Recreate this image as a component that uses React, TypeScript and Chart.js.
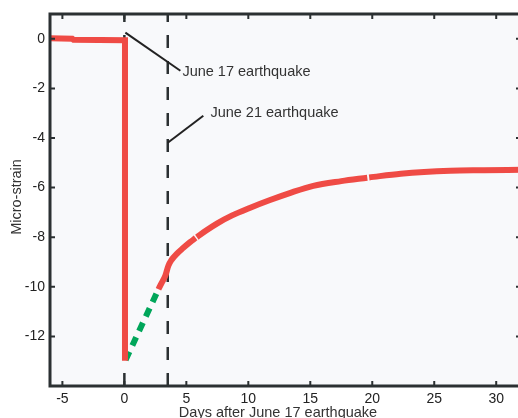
import React, { useEffect, useRef } from "react";
import { Chart, registerables } from "chart.js";

Chart.register(...registerables);

// ---- data ----
const preDays = [-6, -4.2, -4.1, 0.05, 0.05];
const preStrain = [0.02, 0.0, -0.04, -0.06, -12.98];

const recoveryDays = [2.75, 3.0, 3.3, 3.55, 3.8, 4.25, 4.76, 5.3, 5.75, 5.8, 5.85, 6.6, 7.5, 8.7, 10.16, 11.7, 13.4, 15.24, 17.5, 19.6, 19.68, 19.75, 22.3, 26.3, 29, 32];
const recoveryStrain: (number | null)[] = [-10.1, -9.85, -9.56, -9.15, -8.92, -8.66, -8.43, -8.2, -8.03, null, -8.0, -7.73, -7.44, -7.12, -6.81, -6.51, -6.21, -5.93, -5.74, -5.6, null, -5.59, -5.44, -5.32, -5.3, -5.28];

const fitDays = [0.1, 2.75];
const fitStrain = [-12.95, -10.1];

const eventDays = [0, 3.5];
const labelTexts = ["June 17 earthquake", "June 21 earthquake"];
const leaderStart = [[0.08, 0.25], [3.5, -4.19]];
const leaderEnd = [[4.52, -1.29], [6.37, -3.1]];
const labelAnchor = [[4.68, -1.33], [6.94, -3.0]];

const xTicks = [-5, 0, 5, 10, 15, 20, 25, 30];
const yTicks = [0, -2, -4, -6, -8, -10, -12];

const xTitle = "Days after June 17 earthquake";
const yTitle = "Micro-strain";

// ---- styles ----
const RED = "#ef4b45";
const GREEN = "#00a65a";
const DARK = "#2b3032";
const BG = "#f8f9fb";
const FONT = "'Liberation Sans', Arial, Helvetica, sans-serif";

const pts = (xs: number[], ys: (number | null)[]) => xs.map((x, i) => ({ x, y: ys[i] }));

const framePlugin = {
  id: "framePlugin",
  beforeDraw(chart: any) {
    const { ctx, chartArea: a, width, height } = chart;
    ctx.save();
    ctx.fillStyle = "#ffffff";
    ctx.fillRect(0, 0, width, height);
    ctx.fillStyle = BG;
    ctx.fillRect(a.left, a.top, a.right - a.left, a.bottom - a.top);
    ctx.restore();
  },
  beforeDatasetsDraw(chart: any) {
    const { ctx, chartArea: a, scales } = chart;
    const x = scales.x, y = scales.y;
    ctx.save();
    ctx.beginPath();
    ctx.rect(a.left, a.top, a.right - a.left, a.bottom - a.top);
    ctx.clip();
    ctx.strokeStyle = DARK;
    ctx.lineWidth = 2.5;
    ctx.setLineDash([13, 13]);
    eventDays.forEach((d) => {
      const px = x.getPixelForValue(d);
      ctx.beginPath();
      ctx.moveTo(px, a.bottom);
      ctx.lineTo(px, a.top);
      ctx.stroke();
    });
    ctx.setLineDash([]);
    ctx.lineWidth = 2;
    ctx.strokeStyle = "#222";
    leaderStart.forEach((s, i) => {
      const e = leaderEnd[i];
      ctx.beginPath();
      ctx.moveTo(x.getPixelForValue(s[0]), y.getPixelForValue(s[1]));
      ctx.lineTo(x.getPixelForValue(e[0]), y.getPixelForValue(e[1]));
      ctx.stroke();
    });
    ctx.fillStyle = "#333";
    ctx.font = `14.5px ${FONT}`;
    ctx.textAlign = "left";
    ctx.textBaseline = "middle";
    labelTexts.forEach((t, i) => {
      const p = labelAnchor[i];
      ctx.fillText(t, x.getPixelForValue(p[0]), y.getPixelForValue(p[1]));
    });
    ctx.restore();
  },
  afterDatasetsDraw(chart: any) {
    const { ctx, chartArea: a, scales } = chart;
    const x = scales.x, y = scales.y;
    ctx.save();
    ctx.strokeStyle = DARK;
    ctx.lineWidth = 2;
    const tl = 5;
    xTicks.forEach((v) => {
      const px = x.getPixelForValue(v);
      ctx.beginPath();
      ctx.moveTo(px, a.bottom);
      ctx.lineTo(px, a.bottom - tl);
      ctx.moveTo(px, a.top);
      ctx.lineTo(px, a.top + tl);
      ctx.stroke();
    });
    yTicks.forEach((v) => {
      const py = y.getPixelForValue(v);
      ctx.beginPath();
      ctx.moveTo(a.left, py);
      ctx.lineTo(a.left + tl, py);
      ctx.moveTo(a.right, py);
      ctx.lineTo(a.right - tl, py);
      ctx.stroke();
    });
    ctx.lineWidth = 3;
    ctx.strokeRect(a.left, a.top, a.right - a.left, a.bottom - a.top);
    ctx.restore();
  },
  afterDraw(chart: any) {
    const { ctx, chartArea: a } = chart;
    ctx.save();
    ctx.fillStyle = "#333";
    ctx.font = `14.5px ${FONT}`;
    ctx.textAlign = "center";
    ctx.textBaseline = "alphabetic";
    ctx.fillText(xTitle, a.left + 228, 416.5);
    ctx.translate(20.5, (a.top + a.bottom) / 2 - 3);
    ctx.rotate(-Math.PI / 2);
    ctx.fillText(yTitle, 0, 0);
    ctx.restore();
  },
};

export default function App() {
  const ref = useRef<HTMLCanvasElement | null>(null);

  useEffect(() => {
    if (!ref.current) return;
    const chart = new Chart(ref.current, {
      type: "line",
      data: {
        datasets: [
          {
            data: pts(preDays, preStrain),
            borderColor: RED,
            borderWidth: 6,
            tension: 0,
            borderJoinStyle: "miter",
            borderCapStyle: "butt",
            pointRadius: 0,
          },
          {
            data: pts(recoveryDays, recoveryStrain),
            borderColor: RED,
            borderWidth: 6,
            cubicInterpolationMode: "monotone",
            borderCapStyle: "butt",
            spanGaps: false,
            pointRadius: 0,
          },
          {
            data: pts(fitDays, fitStrain),
            borderColor: GREEN,
            borderWidth: 6,
            borderDash: [9, 7],
            borderCapStyle: "butt",
            pointRadius: 0,
          },
        ] as any,
      },
      options: {
        animation: false,
        responsive: false,
        devicePixelRatio: 1,
        layout: { padding: { top: 14, right: 19, left: 0, bottom: 0 } },
        plugins: { legend: { display: false }, tooltip: { enabled: false } },
        elements: { point: { radius: 0 } },
        scales: {
          x: {
            type: "linear",
            min: -6,
            max: 32,
            grid: { display: false, drawTicks: false },
            border: { display: false },
            afterBuildTicks: (s: any) => {
              s.ticks = xTicks.map((v) => ({ value: v }));
            },
            afterFit: (s: any) => {
              s.height = 32;
            },
            ticks: {
              font: { family: FONT, size: 14 },
              color: "#222",
              padding: 5,
              maxRotation: 0,
              autoSkip: false,
            },
          },
          y: {
            type: "linear",
            min: -14,
            max: 1,
            grid: { display: false, drawTicks: false },
            border: { display: false },
            afterBuildTicks: (s: any) => {
              s.ticks = yTicks.map((v) => ({ value: v }));
            },
            afterFit: (s: any) => {
              s.width = 50;
            },
            ticks: {
              font: { family: FONT, size: 14 },
              color: "#222",
              padding: 5,
              autoSkip: false,
            },
          },
        },
      } as any,
      plugins: [framePlugin],
    });
    return () => chart.destroy();
  }, []);

  return (
    <div
      style={{
        position: "fixed",
        left: 0,
        top: 0,
        width: 518,
        height: 418,
        overflow: "hidden",
        background: "#fff",
      }}
    >
      <canvas ref={ref} width={540} height={418} style={{ display: "block", width: 540, height: 418 }} />
    </div>
  );
}
